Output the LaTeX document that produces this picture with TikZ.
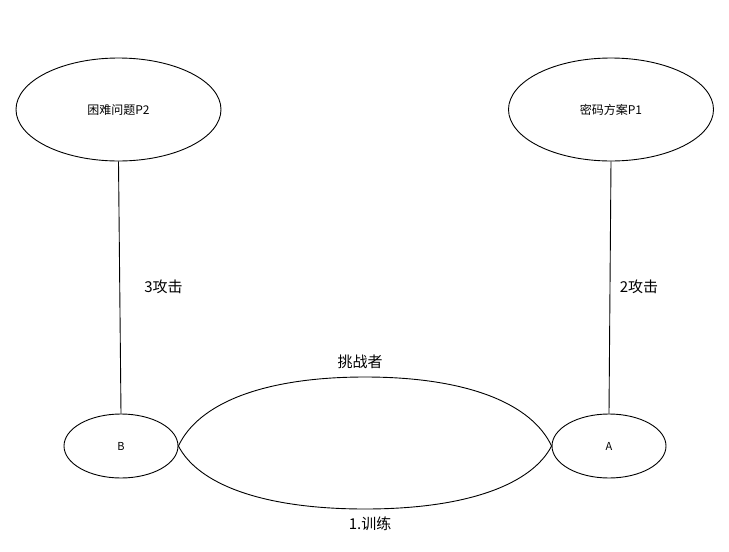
\documentclass[tikz,border=0pt]{standalone}
\usepackage{fontspec}
\setmainfont{Noto Sans CJK SC}
\usetikzlibrary{shapes.geometric}
\tikzset{
  bigell/.style={draw, ellipse, line width=0.9pt, minimum width=205pt, minimum height=103pt, inner sep=0pt, font=\fontsize{12}{14}\selectfont},
  smallell/.style={draw, ellipse, line width=0.9pt, minimum width=114pt, minimum height=64pt, inner sep=0pt, font=\fontsize{11}{13}\selectfont},
  conn/.style={line width=0.9pt},
  lbl/.style={inner sep=0pt, font=\fontsize{15}{17}\selectfont}
}
\begin{document}
\begin{tikzpicture}[x=1pt,y=-1pt]
\useasboundingbox (0,0) rectangle (729,552);
\node[bigell] (p2) at (118.5,109.5) {困难问题P2};
\node[bigell] (p1) at (611,109.5) {密码方案P1};
\node[smallell] (b) at (121,446) {B};
\node[smallell] (a) at (609,446) {A};
\draw[conn] (p2.south) -- (b.north);
\draw[conn] (p1.south) -- (a.north);
\coordinate (top) at (365,377);
\coordinate (bot) at (365,509);
\draw[conn] (b.east) .. controls (198,404) and (262,377) .. (top)
  .. controls (468,377) and (532,404) .. (a.west);
\draw[conn] (b.east) .. controls (198,484) and (262,509) .. (bot)
  .. controls (468,509) and (532,484) .. (a.west);
\node[lbl] (l3) at (163.5,287) {3攻击};
\node[lbl] (l2) at (639,287) {2攻击};
\node[lbl] (lc) at (360,362) {挑战者};
\node[lbl] (lt) at (370,524) {1.训练};
\end{tikzpicture}
\end{document}
